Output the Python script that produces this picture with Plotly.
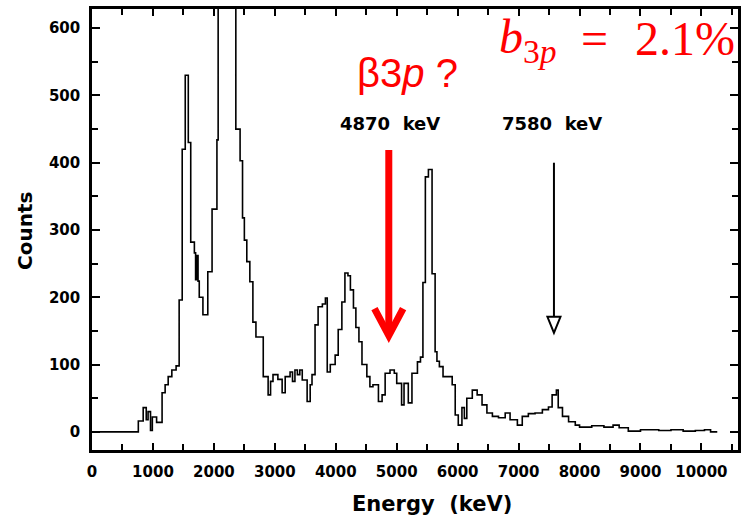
import plotly.graph_objects as go

# Histogram: bin left edges (keV) and counts
energy_keV = [0, 760, 840, 890, 920, 960, 990, 1060, 1150, 1200, 1250, 1310, 1380, 1430,
              1480, 1530, 1580, 1620, 1680, 1700, 1720, 1740, 1760, 1820, 1900, 1970, 2050,
              2070, 2360, 2430, 2470, 2500, 2540, 2590, 2640, 2690, 2810, 2890, 2930, 2970,
              3050, 3120, 3170, 3250, 3290, 3330, 3370, 3410, 3450, 3530, 3580, 3610, 3660,
              3710, 3780, 3830, 3860, 3910, 3990, 4040, 4100, 4150, 4200, 4240, 4290, 4330,
              4380, 4430, 4510, 4560, 4610, 4700, 4760, 4810, 4890, 4960, 5000, 5080, 5120,
              5190, 5250, 5340, 5390, 5430, 5470, 5520, 5580, 5630, 5660, 5700, 5760, 5910,
              5960, 6010, 6070, 6110, 6150, 6240, 6320, 6400, 6480, 6570, 6670, 6780, 6860,
              6980, 7060, 7160, 7270, 7390, 7490, 7550, 7620, 7650, 7720, 7820, 7930, 8000,
              8200, 8400, 8550, 8650, 8800, 9000, 9300, 9500, 9700, 9900, 10050, 10150, 10260]
counts = [0, 16, 36, 18, 30, 2, 22, 14, 58, 70, 82, 92, 98, 196,
          420, 530, 430, 282, 266, 226, 262, 224, 200, 174, 238, 331, 434,
          900, 450, 403, 318, 285, 253, 223, 163, 141, 82, 55, 75, 85,
          78, 58, 82, 89, 75, 92, 85, 92, 77, 45, 70, 85, 159,
          186, 190, 199, 89, 100, 114, 152, 193, 236, 232, 211, 184, 155,
          134, 100, 82, 67, 70, 45, 55, 87, 92, 87, 72, 40, 72,
          43, 87, 104, 111, 222, 379, 390, 235, 119, 105, 97, 82, 70,
          25, 10, 36, 20, 50, 62, 55, 40, 28, 23, 21, 28, 18,
          10, 23, 27, 28, 33, 37, 55, 62, 36, 23, 15, 10, 7,
          9, 7, 10, 6, 1, 3, 2, 3, 1, 2, 3, 0, 0]

x_tick_vals = [0, 1000, 2000, 3000, 4000, 5000, 6000, 7000, 8000, 9000, 10000]
x_tick_text = ["0", "1000", "2000", "3000", "4000", "5000", "6000", "7000", "8000", "9000", "10000"]
y_tick_vals = [0, 100, 200, 300, 400, 500, 600]
y_tick_text = ["0", "100", "200", "300", "400", "500", "600"]

red_arrow_keV = 4870
black_arrow_keV = 7580

RED = "#ff0000"
TICKFONT = dict(family="DejaVu Sans", size=15, color="black", weight="bold")

fig = go.Figure()
fig.add_trace(go.Scatter(x=energy_keV, y=counts, mode="lines",
                         line=dict(color="black", width=1.6, shape="hv"),
                         hoverinfo="skip", showlegend=False))

fig.update_layout(
    width=745, height=518,
    margin=dict(l=92, r=7, t=9, b=68, autoexpand=False),
    paper_bgcolor="white", plot_bgcolor="white",
    xaxis=dict(range=[0, 10600], tickvals=x_tick_vals, ticktext=x_tick_text,
               ticks="inside", ticklen=7,
               tickwidth=2, tickcolor="black", showline=True, linewidth=2.5,
               linecolor="black", mirror="allticks", showgrid=False, zeroline=False,
               tickfont=TICKFONT, ticklabelstandoff=6,
               minor=dict(dtick=500, ticks="inside", ticklen=6, tickwidth=2,
                          tickcolor="black", showgrid=False)),
    yaxis=dict(range=[-27, 628.5], tickvals=y_tick_vals, ticktext=y_tick_text,
               ticks="inside", ticklen=8,
               tickwidth=2, tickcolor="black", showline=True, linewidth=2.5,
               linecolor="black", mirror="allticks", showgrid=False, zeroline=False,
               tickfont=TICKFONT, ticklabelstandoff=6,
               minor=dict(dtick=50, ticks="inside", ticklen=6, tickwidth=2,
                          tickcolor="black", showgrid=False)),
)


def px_to_paper(px, py):
    # pixel position in the 745x518 picture -> paper coordinates of the plot area
    return (px - 92) / 646.0, (450 - py) / 441.0


ex, ey = px_to_paper(432, 504)
cx, cy = px_to_paper(25, 231)
bx, by = px_to_paper(407, 73)
fx1, fy1 = px_to_paper(497, 40)
fx2, fy2 = px_to_paper(594, 38)
fx3, fy3 = px_to_paper(685, 38)


def ann(text, x, y, font, xref="paper", yref="paper", **kw):
    d = dict(text=text, x=x, y=y, xref=xref, yref=yref, showarrow=False,
             xanchor="center", yanchor="middle", font=font)
    d.update(kw)
    return d


annotations = [
    ann("Energy\u00a0\u00a0(keV)", ex, ey,
        dict(family="DejaVu Sans", size=21, color="black", weight="bold")),
    ann("Counts", cx, cy,
        dict(family="DejaVu Sans", size=20, color="black", weight="bold"), textangle=-90),
    ann("4870\u00a0\u00a0keV", red_arrow_keV + 20, 459,
        dict(family="DejaVu Sans", size=18, color="black", weight="bold"), xref="x", yref="y"),
    ann("7580\u00a0\u00a0keV", black_arrow_keV - 40, 459,
        dict(family="DejaVu Sans", size=18, color="black", weight="bold"), xref="x", yref="y"),
    ann("β3<i>p</i> ?", bx, by, dict(family="Liberation Sans", size=40, color=RED)),
    ann("<i>b</i><sub>3<i>p</i></sub>", fx1, fy1,
        dict(family="Liberation Serif", size=48, color=RED), xanchor="left"),
    ann("=", fx2, fy2, dict(family="Liberation Serif", size=48, color=RED)),
    ann("2.1%", fx3, fy3, dict(family="Liberation Serif", size=48, color=RED)),
]
fig.update_layout(annotations=annotations)

# arrows
half_chev = 235
half_tri = 107
fig.add_shape(type="line", x0=red_arrow_keV, x1=red_arrow_keV, y0=419, y1=150,
              xref="x", yref="y", line=dict(color=RED, width=7))
fig.add_shape(type="path", xref="x", yref="y",
              path=f"M {red_arrow_keV - half_chev},183 L {red_arrow_keV},143 L {red_arrow_keV + half_chev},183",
              line=dict(color=RED, width=7))
fig.add_shape(type="line", x0=black_arrow_keV, x1=black_arrow_keV, y0=400, y1=171,
              xref="x", yref="y", line=dict(color="black", width=2))
fig.add_shape(type="path", xref="x", yref="y",
              path=f"M {black_arrow_keV - half_tri},171 L {black_arrow_keV + half_tri},171 L {black_arrow_keV},147 Z",
              fillcolor="white", line=dict(color="black", width=2))

fig.write_html("out.html", config={"displayModeBar": False},
               post_script="document.body.style.margin='0';document.body.style.padding='0';")
